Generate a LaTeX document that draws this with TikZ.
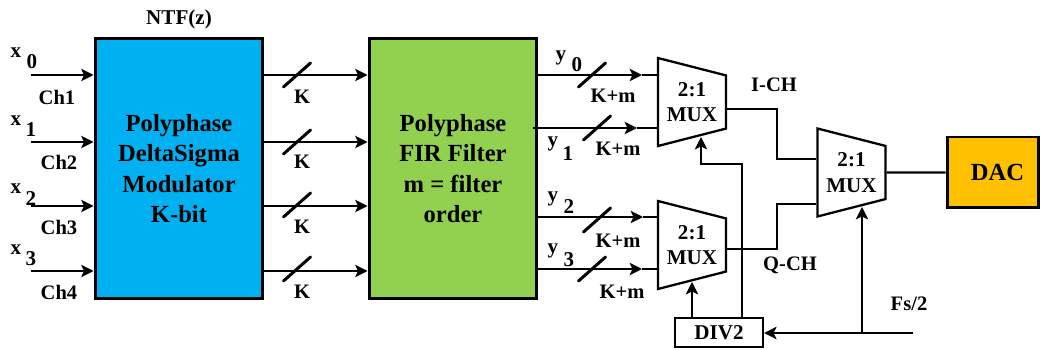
\documentclass[tikz,border=0pt]{standalone}
\usepackage{fontspec}
\setmainfont{Liberation Serif}
\usetikzlibrary{arrows.meta,shapes.geometric,calc}

\tikzset{
  wire/.style={line width=1.4pt},
  busmark/.style={line width=1.7pt,line cap=round},
  block/.style={draw,line width=1.7pt,inner sep=0pt,minimum width=3.36cm,minimum height=5.2cm,align=center,font=\bfseries\fontsize{14}{17.4}\selectfont},
  mux/.style={draw,line width=1.3pt,trapezium,shape border rotate=270,trapezium stretches=true,trapezium angle=75.6,minimum width=1.76cm,minimum height=1.36cm,inner sep=0pt,align=center,font=\bfseries\fontsize{12}{14.4}\selectfont},
  lbl/.style={inner sep=0pt,font=\bfseries\fontsize{11.7}{14}\selectfont},
  idx/.style={inner sep=0pt,font=\bfseries\fontsize{12}{14}\selectfont}
}
\newcommand{\BusMark}[2]{\draw[busmark] ($(#1,#2)+(-13.5,12)$) -- ($(#1,#2)+(13.5,-12)$);}

\begin{document}
\begin{tikzpicture}[x=0.02cm,y=-0.02cm,>={Stealth[length=7pt,width=7pt,inset=1.6pt]}]
      \useasboundingbox (0,0) rectangle (1040,350);

      \node[block,fill={rgb,255:red,0;green,176;blue,240}] (ntf) at (179,168.5) {Polyphase\\DeltaSigma\\Modulator\\K-bit};
      \node[block,fill={rgb,255:red,146;green,208;blue,80}] (fir) at (453,168.5) {Polyphase\\FIR Filter\\m = filter\\order};
      \node[mux] (muxa) at (692,102) {2:1\\MUX};
      \node[mux] (muxb) at (692,245) {2:1\\MUX};
      \node[mux] (muxc) at (851.5,172.5) {2:1\\MUX};
      \node[draw,line width=1.3pt,inner sep=0pt,minimum width=1.76cm,minimum height=0.58cm,font=\bfseries\fontsize{12}{14}\selectfont] (div) at (719,332.5) {DIV2};
      \node[draw,line width=1.7pt,inner sep=0pt,minimum width=1.82cm,minimum height=1.42cm,fill={rgb,255:red,255;green,192;blue,0},font=\bfseries\fontsize{14}{17}\selectfont] (dac) at (992.5,172.5) {\hspace*{0.2cm}DAC};

      \coordinate (x0) at (31,75);
      \coordinate (x1) at (31,142);
      \coordinate (x2) at (31,206);
      \coordinate (x3) at (31,271);
      \coordinate (y0) at (537,75);
      \coordinate (y1) at (533,128);
      \coordinate (y2) at (537,217);
      \coordinate (y3) at (537,269);
      \coordinate (t0) at (642,75);
      \coordinate (t1) at (637,128);
      \coordinate (t2) at (643,217);
      \coordinate (t3) at (642,269);
      \coordinate (clk) at (913,333);
      \coordinate (clkup) at (862,333);
      \coordinate (sela) at (701,137);
      \coordinate (selb) at (692,282);
      \coordinate (selc) at (862,207);
      \coordinate (ia) at (777,159);
      \coordinate (qa) at (777,204);

      \path[wire]
      (x0) edge [->] (x0 -| ntf.west)
      (x1) edge [->] (x1 -| ntf.west)
      (x2) edge [->] (x2 -| ntf.west)
      (x3) edge [->] (x3 -| ntf.west)

      (x0 -| ntf.east) edge [->] (x0 -| fir.west)
      (x1 -| ntf.east) edge [->] (x1 -| fir.west)
      (x2 -| ntf.east) edge [->] (x2 -| fir.west)
      (x3 -| ntf.east) edge [->] (x3 -| fir.west)

      (y0) edge [->] (t0)
      (t0) edge (t0 -| muxa.west)
      (y1) edge [->] (t1)
      (t1) edge (t1 -| muxa.west)
      (y2) edge [->] (t2)
      (t2) edge (t2 -| muxb.west)
      (y3) edge [->] (t3)
      (t3) edge (t3 -| muxb.west)

      (clk) edge [->] (clk -| div.east)
      (clkup) edge [->] (selc)
      (selb |- div.north) edge [->] (selb)
      (muxc.east) edge (dac.west);

      \draw[wire] (muxa.east |- 0,109) -| (ia) -- (ia -| muxc.west);
      \draw[wire] (muxb.east |- 0,249) -| (qa) -- (qa -| muxc.west);
      \draw[wire,->] (742,318) |- (701,164) -- (sela);

      \BusMark{297}{75}
      \BusMark{297}{142}
      \BusMark{297}{205}
      \BusMark{297}{269}
      \BusMark{592}{75}
      \BusMark{597}{128}
      \BusMark{597}{220}
      \BusMark{592}{269}

      \node[idx] (ntflabel) at (179,19) {NTF(z)};
      \node[idx] (xa) at (16,53) {x};
      \node[idx] (xan) at (32,62) {0};
      \node[idx] (xb) at (16,121) {x};
      \node[idx] (xbn) at (31,130) {1};
      \node[idx] (xc) at (16,189) {x};
      \node[idx] (xcn) at (31,199) {2};
      \node[idx] (xd) at (16,250) {x};
      \node[idx] (xdn) at (31,259) {3};
      \node[lbl] (cha) at (57,97) {Ch1};
      \node[lbl] (chb) at (59,162) {Ch2};
      \node[lbl] (chc) at (59,227) {Ch3};
      \node[lbl] (chd) at (59,292) {Ch4};
      \node[lbl] (ka) at (302,97) {K};
      \node[lbl] (kb) at (302,162) {K};
      \node[lbl] (kc) at (302,227) {K};
      \node[lbl] (kd) at (302,292) {K};
      \node[idx] (ya) at (561,58) {y};
      \node[idx] (yan) at (577,65) {0};
      \node[idx] (yb) at (553,144) {y};
      \node[idx] (ybn) at (568,154) {1};
      \node[idx] (yc) at (553,199) {y};
      \node[idx] (ycn) at (569,207) {2};
      \node[idx] (yd) at (553,251) {y};
      \node[idx] (ydn) at (569,260) {3};
      \node[lbl] (kma) at (613,96) {K+m};
      \node[lbl] (kmb) at (618,149) {K+m};
      \node[lbl] (kmc) at (618,241) {K+m};
      \node[lbl] (kmd) at (622,292) {K+m};
      \node[lbl] (ich) at (774,85) {I-CH};
      \node[lbl] (qch) at (790,265) {Q-CH};
      \node[lbl] (fs) at (909,304) {Fs/2};
\end{tikzpicture}
\end{document}
